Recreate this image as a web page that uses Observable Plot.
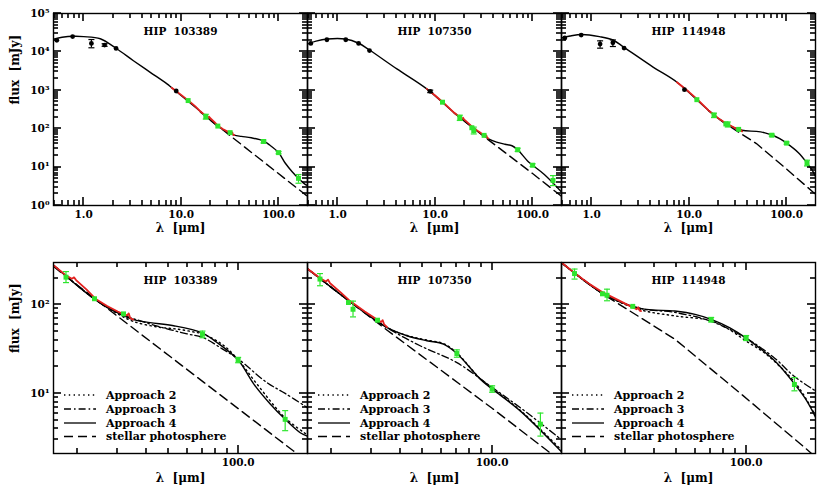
<!DOCTYPE html>
<html><head><meta charset="utf-8">
<script src="https://cdn.jsdelivr.net/npm/d3@7"></script>
<script src="https://cdn.jsdelivr.net/npm/@observablehq/plot@0.6"></script>
<style>
body{margin:0;background:#fff;}
#chart{position:relative;width:818px;height:487px;overflow:hidden;background:#fff;}
</style></head><body><div id="chart"></div>
<script>
// ---------------- data ----------------
const stars = ["HIP  103389", "HIP  107350", "HIP  114948"];

// photometry: [lambda um, flux mJy, low, high]
const hip103389Black = [[0.53,20000],[0.77,25000],[1.2,16600,12800,21000],[1.64,15100,14000,16300],[2.15,12300],[8.9,960]];
const hip107350Black = [[0.53,16600],[0.775,20700],[1.21,20700],[1.64,16600],[2.12,10800],[8.9,940,870,1010]];
const hip114948Black = [[0.53,23000],[0.78,27500],[1.22,16000,12500,19400],[1.65,17300,13800,20500],[2.15,12600],[8.95,1040]];

const hip103389Green = [[11.8,540],[17.9,205,178,237],[23.8,117],[31.8,79],[70,46.5,42.5,50.5],[100,23.8,22.2,25.5],[160,5.1,3.8,6.4]];
const hip107350Green = [[11.9,490],[17.9,195,164,225],[23.8,106],[24.9,89,73,110],[31.8,67],[70.3,28.2,25.6,31],[100,11.2,10.3,12.2],[162,4.5,3.3,6.0]];
const hip114948Green = [[12,570],[18,225,195,253],[23.8,133],[24.9,128,111,150],[32.2,96],[70.5,67.7,64,72],[100,42.1,39.5,45],[162,12.6,10.7,15.1]];

// stellar SED (short wavelengths, top row)
const hip103389Star = [[0.49,21600],[0.6,24000],[0.79,25500],[1.0,25000],[1.48,22000],[2.11,12800],[3.24,5900],[4.82,2940],[7.16,1470],[8.0,1170]];
const hip107350Star = [[0.49,16000],[0.6,19000],[0.78,21600],[1.2,21600],[1.64,16800],[2.12,11200],[4.05,3600],[8.2,1090]];
const hip114948Star = [[0.49,23000],[0.6,26000],[0.8,28500],[1.2,25000],[1.65,20400],[2.15,13100],[4.3,3970],[7.5,1620]];

// IRS spectrum (red)
const hip103389IRS = [[8.0,1170],[10,760],[12,530],[14,380],[15.8,280],[18,212],[19,197],[19.4,204],[19.8,190],[22,148],[24,117],[27,97],[30,84],[32,78],[33,76],[33.5,80],[34,71],[35,68]];
const hip107350IRS = [[8.2,1090],[10,730],[12,490],[15.8,255],[18,198],[19,183],[19.4,192],[19.8,175],[22,138],[24,112],[28,84],[32,67],[33,64],[33.5,67],[34,60],[35,56]];
const hip114948IRS = [[7.5,1620],[10,900],[12,600],[15.8,300],[18,228],[21,170],[24,137],[28,112],[32,94],[33.5,89],[34,94],[34.5,86],[35,85]];

// models
const hip103389A4 = [[15.8,280],[23.8,116],[29.8,82],[35.1,68],[41.5,63],[52.5,58],[70,48],[80.9,37.6],[100,23.8],[116.8,12.8],[137.8,7.6],[160,5.1],[186,3.6],[200,3.3]];
const hip107350A4 = [[15.8,255],[24,110],[34.9,55.5],[42.7,44.7],[52.1,39.3],[61.5,36],[70.3,28.2],[88.8,14.5],[100,11.2],[132,6.4],[198,2.26],[200,2.2]];
const hip114948A4 = [[15.8,300],[24,133],[34.7,91],[49,85],[60,78],[70.5,68.5],[85,55],[100,42.1],[133,23.4],[162,12.8],[183,8.3],[200,5.4]];

const hip103389A3 = [[15.8,280],[23.8,116],[29.8,82],[35,70],[45,57],[60,47],[70,43],[85,32],[100,24.5],[133,13.3],[160,10],[200,6.9]];
const hip107350A3 = [[15.8,255],[24,110],[34.9,55.5],[48.7,34.5],[70,22.4],[100,11.7],[140,6.2],[200,3.0]];
const hip114948A3 = [[15.8,300],[24,133],[34.7,91],[49,82],[70.5,65],[100,42],[133,25],[162,15.5],[200,10.7]];

const hip103389A2 = [[15.8,280],[23.8,116],[29.8,80],[35,65],[45,56],[55,53],[65,49],[70,47],[85,36],[100,24],[120,13],[160,5.3],[200,3.4]];
const hip107350A2 = [[15.8,255],[24,110],[34.9,55.5],[42.7,45],[52,40],[61.5,36.5],[70,29],[88,15],[100,11.5],[132,6.5],[200,2.3]];
const hip114948A2 = [[15.8,300],[24,133],[34.7,88],[49,75],[70.5,66],[85,52],[100,39],[122,27.8],[162,13.5],[183,8.5],[200,5.6]];

const hip103389Phot = [[15.8,270],[29.8,75],[174,2.24],[200,1.7]];
const hip107350Phot = [[15.8,253],[34.9,52],[100,6.8],[200,1.7]];
const hip114948Phot = [[15.8,295],[23.8,133],[49,41],[95.4,9.8],[190,2.16],[200,1.9]];

const legendLabels = ["Approach 2", "Approach 3", "Approach 4", "stellar photosphere"];

// tick values
const topXMajor = [1, 10, 100];
const topXMinor = [0.5,0.6,0.7,0.8,0.9,2,3,4,5,6,7,8,9,20,30,40,50,60,70,80,90];
const topYMajor = [1, 10, 100, 1000, 10000, 100000];
const topYMinor = [2,3,4,5,6,7,8,9,20,30,40,50,60,70,80,90,200,300,400,500,600,700,800,900,
  2000,3000,4000,5000,6000,7000,8000,9000,20000,30000,40000,50000,60000,70000,80000,90000];
const botXMajor = [100];
const botXMinor = [20,30,40,50,60,70,80,90];
const botYMajor = [10, 100];
const botYMinor = [3,4,5,6,7,8,9,20,30,40,50,60,70,80,90,200];

const starData = [
  {black: hip103389Black, green: hip103389Green, star: hip103389Star, irs: hip103389IRS, a4: hip103389A4, a3: hip103389A3, a2: hip103389A2, phot: hip103389Phot},
  {black: hip107350Black, green: hip107350Green, star: hip107350Star, irs: hip107350IRS, a4: hip107350A4, a3: hip107350A3, a2: hip107350A2, phot: hip107350Phot},
  {black: hip114948Black, green: hip114948Green, star: hip114948Star, irs: hip114948IRS, a4: hip114948A4, a3: hip114948A3, a2: hip114948A2, phot: hip114948Phot}
];

// ---------------- drawing ----------------
const GREEN = "#2ee52e", RED = "#e3211f";
const FONT = "'DejaVu Serif', serif";
const sup = {0:"\u2070",1:"\u00b9",2:"\u00b2",3:"\u00b3",4:"\u2074",5:"\u2075"};
const powFmt = d => "10" + sup[Math.round(Math.log10(d))];
const capSym = {draw(ctx, size) { const w = Math.sqrt(size) * 0.85; ctx.moveTo(-w, 0); ctx.lineTo(w, 0); }};
const X = d => d[0], Y = d => d[1];
const dashes = ["1.4,3.4", "7,3,1.6,3", null, "9,5"];

const panelLefts = [53, 307, 561];
const PW = 254;

// inward ticks on all four sides, placed through the plot's own scales
function tickLayer(xMaj, xMin, yMaj, yMin) {
  return (index, scales, values, dim) => {
    const NS = "http://www.w3.org/2000/svg";
    const g = document.createElementNS(NS, "g");
    const l = dim.marginLeft, r = dim.width - dim.marginRight;
    const t = dim.marginTop, b = dim.height - dim.marginBottom;
    const add = (x1, y1, x2, y2) => {
      const e = document.createElementNS(NS, "line");
      e.setAttribute("x1", x1); e.setAttribute("y1", y1);
      e.setAttribute("x2", x2); e.setAttribute("y2", y2);
      e.setAttribute("stroke", "#000"); e.setAttribute("stroke-width", "1.6");
      g.appendChild(e);
    };
    [[xMaj, 8], [xMin, 5]].forEach(([vals, s]) => vals.forEach(v => {
      const px = Math.round(scales.x(v));
      if (!(px >= l && px <= r)) return;
      add(px, b, px, b - s);
      add(px, t, px, t + s);
    }));
    [[yMaj, 8], [yMin, 5]].forEach(([vals, s]) => vals.forEach(v => {
      const py = Math.round(scales.y(v));
      if (!(py >= t && py <= b)) return;
      add(l, py, l + s, py);
      add(r, py, r - s, py);
    }));
    return g;
  };
}

function legendMark() {
  return (index, scales, values, dim) => {
    const g = d3.create("svg:g");
    const x0 = dim.marginLeft, yb = dim.height - dim.marginBottom;
    const offs = [-58, -44, -30, -16.5];
    legendLabels.forEach((lab, i) => {
      const y = yb + offs[i];
      const ln = g.append("line").attr("x1", x0 + 11).attr("x2", x0 + 43).attr("y1", y).attr("y2", y)
        .attr("stroke", "black").attr("stroke-width", 1.3);
      if (dashes[i]) ln.attr("stroke-dasharray", dashes[i]);
      g.append("text").attr("x", x0 + 53).attr("y", y).attr("dy", "0.35em")
        .attr("text-anchor", "start")
        .attr("font-family", FONT).attr("font-weight", "bold").attr("font-size", 11)
        .attr("fill", "black").text(lab);
    });
    return g.node();
  };
}

function errMarks(data, color) {
  const err = data.filter(d => d.length > 2);
  const caps = err.flatMap(d => [[d[0], d[2]], [d[0], d[3]]]);
  return [
    Plot.ruleX(err, {x: X, y1: d => d[2], y2: d => d[3], stroke: color, strokeWidth: 1.2, clip: true}),
    Plot.dot(caps, {x: X, y: Y, symbol: capSym, r: 2, stroke: color, strokeWidth: 1.2, clip: true})
  ];
}

function panel(row, col) {
  const s = starData[col];
  const top = row === 0;
  const left = panelLefts[col];
  const xMaj = top ? topXMajor : botXMajor, xMin = top ? topXMinor : botXMinor;
  const yMaj = top ? topYMajor : botYMajor, yMin = top ? topYMinor : botYMinor;
  const marks = [
    Plot.line(s.phot, {x: X, y: Y, stroke: "black", strokeWidth: 1.4, strokeDasharray: dashes[3], clip: true})
  ];
  if (!top) {
    marks.push(
      Plot.line(s.a2, {x: X, y: Y, curve: "catmull-rom", stroke: "black", strokeWidth: 1.4, strokeDasharray: dashes[0], clip: true}),
      Plot.line(s.a3, {x: X, y: Y, curve: "catmull-rom", stroke: "black", strokeWidth: 1.3, strokeDasharray: dashes[1], clip: true})
    );
  }
  marks.push(
    Plot.line(top ? s.star.concat(s.a4) : s.a4, {x: X, y: Y, curve: "catmull-rom", stroke: "black", strokeWidth: 1.4, clip: true}),
    Plot.line(s.irs, {x: X, y: Y, stroke: RED, strokeWidth: 1.8, clip: true}),
    ...errMarks(s.black, "black"),
    Plot.dot(s.black, {x: X, y: Y, r: 2.4, fill: "black", clip: true}),
    ...errMarks(s.green, GREEN),
    Plot.dot(s.green, {x: X, y: Y, r: 2.8, symbol: "square", fill: GREEN, clip: true}),
    Plot.frame({stroke: "black", strokeWidth: 1.4}),
    tickLayer(xMaj, xMin, yMaj, yMin),
    Plot.axisX({ticks: xMaj, anchor: "bottom", tickSize: 0, tickPadding: 5, tickFormat: d => d.toFixed(1), label: null, fontSize: 10.5, fontWeight: "bold"}),
    Plot.text([stars[col]], {frameAnchor: "top", dy: 14, fontWeight: "bold", fontSize: 10.5}),
    Plot.text(["\u03bb  [\u03bcm]"], {frameAnchor: "bottom", dy: top ? 26 : 28, fontWeight: "bold", fontSize: 12})
  );
  if (col === 0) {
    marks.push(
      Plot.axisY({ticks: yMaj, anchor: "left", tickSize: 0, tickPadding: 4, tickFormat: powFmt, label: null, fontSize: 10.5, fontWeight: "bold"}),
      Plot.text(["flux  [mJy]"], {frameAnchor: "left", dx: -38, dy: -5, rotate: -90, fontWeight: "bold", fontSize: 12})
    );
  }
  if (!top) marks.push(legendMark());
  return Plot.plot({
    width: 818,
    height: top ? 245 : 242,
    marginLeft: left, marginRight: 818 - left - PW,
    marginTop: top ? 13 : 17, marginBottom: top ? 40 : 34,
    x: {type: "log", domain: top ? [0.49, 198] : [15.8, 200], axis: null},
    y: {type: "log", domain: top ? [1, 1e5] : [2.1, 300], axis: null},
    style: {background: "transparent", overflow: "visible", position: "absolute", left: "0px", top: top ? "0px" : "245px", fontFamily: FONT, fontSize: "11px", color: "black"},
    marks
  });
}

const chart = document.getElementById("chart");
for (let r = 0; r < 2; r++) for (let c = 0; c < 3; c++) chart.appendChild(panel(r, c));
</script>
</body></html>
